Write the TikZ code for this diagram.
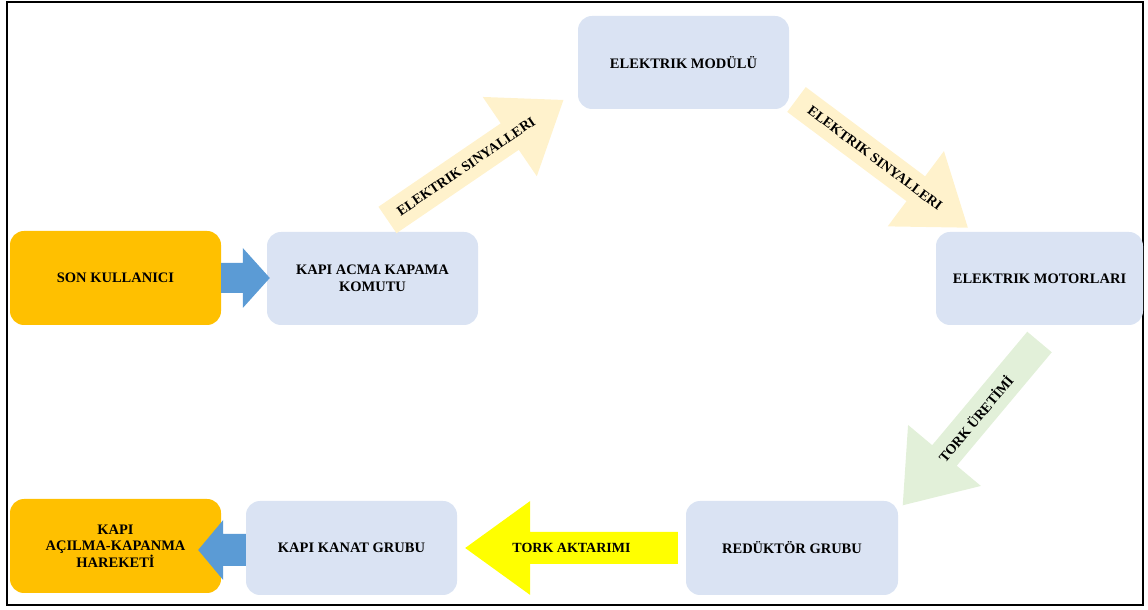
\documentclass[tikz,border=0pt]{standalone}
\usepackage{fontspec}
\setmainfont{Liberation Serif}
\usetikzlibrary{calc}
\definecolor{boxblue}{HTML}{DAE3F3}
\definecolor{boxorange}{HTML}{FFC000}
\definecolor{arrblue}{HTML}{5B9BD5}
\definecolor{peach}{HTML}{FFF2CC}
\definecolor{lgreen}{HTML}{E2F0D9}
\definecolor{yel}{HTML}{FFFF00}
\tikzset{
  x=1pt,y=1pt,
  box/.style={rounded corners=14pt,minimum width=211pt,minimum height=94pt,inner sep=0pt,align=center,
    font=\fontsize{14.5}{16.5}\selectfont\bfseries},
  bluebox/.style={box,fill=boxblue},
  orangebox/.style={box,fill=boxorange},
  arrtext/.style={font=\fontsize{14}{16}\selectfont\bfseries,inner sep=0pt}
}
\begin{document}
\begin{tikzpicture}
\useasboundingbox (0,0) rectangle (1148,610);
\draw[line width=2pt] (7,607.5) rectangle (1143,4.5);
% boxes
\node[orangebox] (son) at (115.5,332) {SON KULLANICI};
\node[bluebox,minimum height=93pt] (komut) at (372.5,331.5) {KAPI ACMA KAPAMA\\KOMUTU};
\node[bluebox,minimum height=93pt] (modul) at (683.5,547.5) {ELEKTRIK MODÜLÜ};
\node[bluebox,minimum width=207pt,minimum height=93pt] (motor) at (1039.5,331.5) {ELEKTRIK MOTORLARI};
\node[bluebox,minimum width=212pt] (reduktor) at (792,62) {REDÜKTÖR GRUBU};
\node[bluebox] (kanat) at (351.5,62) {KAPI KANAT GRUBU};
\node[orangebox] (hareket) at (115.5,64) {KAPI\\AÇILMA-KAPANMA\\HAREKETİ};
% blue arrow son -> komut
\coordinate (t1) at (komut.west |- son.east);
\fill[arrblue] (son.east) ++(0,-15) -- ($(t1)+(-24,-15)$) -- ($(t1)+(-24,-30)$) -- ($(t1)+(3,0)$)
  -- ($(t1)+(-24,30)$) -- ($(t1)+(-24,15)$) -- ($(son.east)+(0,15)$) -- cycle;
% blue arrow kanat -> hareket
\coordinate (t2) at ($(hareket.east)+(-23,-4)$);
\coordinate (s2) at (kanat.west |- t2);
\fill[arrblue] ($(s2)+(0,-16)$) -- ($(t2)+(25,-16)$) -- ($(t2)+(25,-30)$) -- (t2)
  -- ($(t2)+(25,30)$) -- ($(t2)+(25,16)$) -- ($(s2)+(0,16)$) -- cycle;
% yellow arrow reduktor -> kanat
\coordinate (t3) at ($(kanat.east)+(8,0)$);
\coordinate (s3) at ($(reduktor.west)+(-8,0)$);
\fill[yel] ($(s3)+(0,-16)$) -- ($(t3)+(65,-16)$) -- ($(t3)+(65,-47)$) -- (t3)
  -- ($(t3)+(65,47)$) -- ($(t3)+(65,16)$) -- ($(s3)+(0,16)$) -- cycle;
\node[arrtext] (aktarim) at ($(t3)!0.5!(s3)+(0,0)$) {TORK AKTARIMI};
% diagonal arrow komut -> modul
\begin{scope}[shift={(387.5,390)},rotate=34.3]
\fill[peach] (0,-16) -- (148,-16) -- (148,-48) -- (213,0) -- (148,48) -- (148,16) -- (0,16) -- cycle;
\node[arrtext,rotate=34.3] (sig1) at (95,0) {ELEKTRIK SINYALLERI};
\end{scope}
% diagonal arrow modul -> motor
\begin{scope}[shift={(796.5,510.5)},rotate=-36.8]
\fill[peach] (0,-15.5) -- (149,-15.5) -- (149,-47) -- (214,0) -- (149,47) -- (149,15.5) -- (0,15.5) -- cycle;
\node[arrtext,rotate=-36.8] (sig2) at (98,0) {ELEKTRIK SINYALLERI};
\end{scope}
% diagonal arrow motor -> reduktor
\begin{scope}[shift={(1039.5,268)},rotate=230.05]
\fill[lgreen] (0,-16) -- (148,-16) -- (148,-47.5) -- (213,0) -- (148,47.5) -- (148,16) -- (0,16) -- cycle;
\node[arrtext,rotate=50.05] (uretim) at (100,0) {TORK ÜRETİMİ};
\end{scope}
\end{tikzpicture}
\end{document}
